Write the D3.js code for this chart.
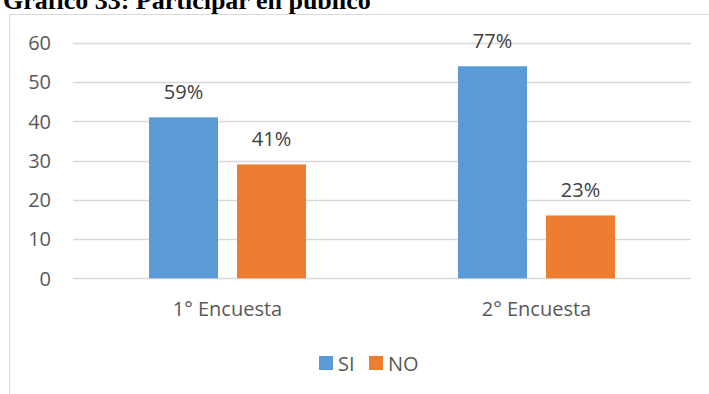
<!DOCTYPE html>
<html>
<head>
<meta charset="utf-8">
<script src="https://cdn.jsdelivr.net/npm/d3@7/dist/d3.min.js"></script>
<style>
  html, body { margin: 0; padding: 0; background: #fff; overflow: hidden; }
  svg { display: block; }
</style>
</head>
<body>
<svg id="chart" width="709" height="394"></svg>
<script>
// Survey results: "Participar en público"
const title = "Gráfico 33: Participar en público";
const categories = ["1° Encuesta", "2° Encuesta"];
const series = ["SI", "NO"];
const siValues = [41, 54];
const noValues = [29, 16];
const yTicks = [0, 10, 20, 30, 40, 50, 60];
const colors = ["#5B9BD5", "#ED7D31"];

const valuesBySeries = [siValues, noValues];
const rows = categories.map((c, i) => {
  const total = siValues[i] + noValues[i];
  return {
    category: c,
    bars: series.map((s, k) => ({
      series: s,
      value: valuesBySeries[k][i],
      pct: Math.round(valuesBySeries[k][i] / total * 100)
    }))
  };
});

const svg = d3.select("#chart");
const font = "'Open Sans', 'Noto Sans', sans-serif";
const textColor = "#595959";

// Title (sits just above the chart frame)
svg.append("text")
  .attr("x", 3).attr("y", 8.5)
  .attr("font-family", "'Liberation Serif', 'Times New Roman', serif")
  .attr("font-weight", "bold")
  .attr("font-size", 26)
  .attr("fill", "#000")
  .text(title);

// Chart frame
svg.append("rect")
  .attr("x", 9.5).attr("y", 14.5)
  .attr("width", 760).attr("height", 420)
  .attr("fill", "#fff")
  .attr("stroke", "#d9d9d9").attr("stroke-width", 1);

const plot = { left: 73, right: 691, top: 42.7, bottom: 278.3 };

const y = d3.scaleLinear().domain([0, 60]).range([plot.bottom, plot.top]);
const x0 = d3.scaleBand().domain(categories).range([plot.left, plot.right]);
const x1 = d3.scaleBand().domain(series)
  .range([0, x0.bandwidth()])
  .paddingInner(0.216).paddingOuter(0.864);

// Gridlines
svg.append("g")
  .selectAll("line").data(yTicks).join("line")
  .attr("x1", plot.left).attr("x2", plot.right)
  .attr("y1", d => Math.round(y(d)) + 0.5).attr("y2", d => Math.round(y(d)) + 0.5)
  .attr("stroke", "#d9d9d9").attr("stroke-width", 1.3);

// Y axis labels
const yAxis = d3.axisLeft(y).tickValues(yTicks).tickSize(0).tickPadding(0);
const gy = svg.append("g").attr("transform", `translate(51,0)`).call(yAxis);
gy.select(".domain").remove();
gy.selectAll("text")
  .attr("font-family", font).attr("font-size", 20)
  .attr("fill", textColor).attr("dy", "0.34em");

// Bars
const groups = svg.append("g").selectAll("g").data(rows).join("g")
  .attr("transform", d => `translate(${x0(d.category)},0)`);

groups.selectAll("rect").data(d => d.bars).join("rect")
  .attr("x", d => x1(d.series))
  .attr("width", x1.bandwidth())
  .attr("y", d => y(d.value))
  .attr("height", d => y(0) - y(d.value))
  .attr("fill", (d, i) => colors[i]);

// Percentage labels
groups.selectAll("text").data(d => d.bars).join("text")
  .attr("x", d => x1(d.series) + x1.bandwidth() / 2)
  .attr("y", d => y(d.value) - 18)
  .attr("text-anchor", "middle")
  .attr("font-family", font).attr("font-size", 20)
  .attr("fill", "#404040")
  .text(d => d.pct + "%");

// Category axis labels
const xAxis = d3.axisBottom(x0).tickSize(0).tickPadding(0);
const gx = svg.append("g").attr("transform", `translate(0,${plot.bottom})`).call(xAxis);
gx.select(".domain").remove();
gx.selectAll("text")
  .attr("font-family", font).attr("font-size", 20)
  .attr("fill", textColor).attr("dy", null).attr("y", 38);

// Legend
const legendItems = [
  { name: series[0], color: colors[0], x: 319 },
  { name: series[1], color: colors[1], x: 369 }
];
const lg = svg.append("g").selectAll("g").data(legendItems).join("g")
  .attr("transform", d => `translate(${d.x},356)`);
lg.append("rect").attr("width", 14).attr("height", 14).attr("fill", d => d.color);
lg.append("text").attr("x", 19).attr("y", 14.5)
  .attr("font-family", font).attr("font-size", 20)
  .attr("fill", textColor).text(d => d.name);
</script>
</body>
</html>
